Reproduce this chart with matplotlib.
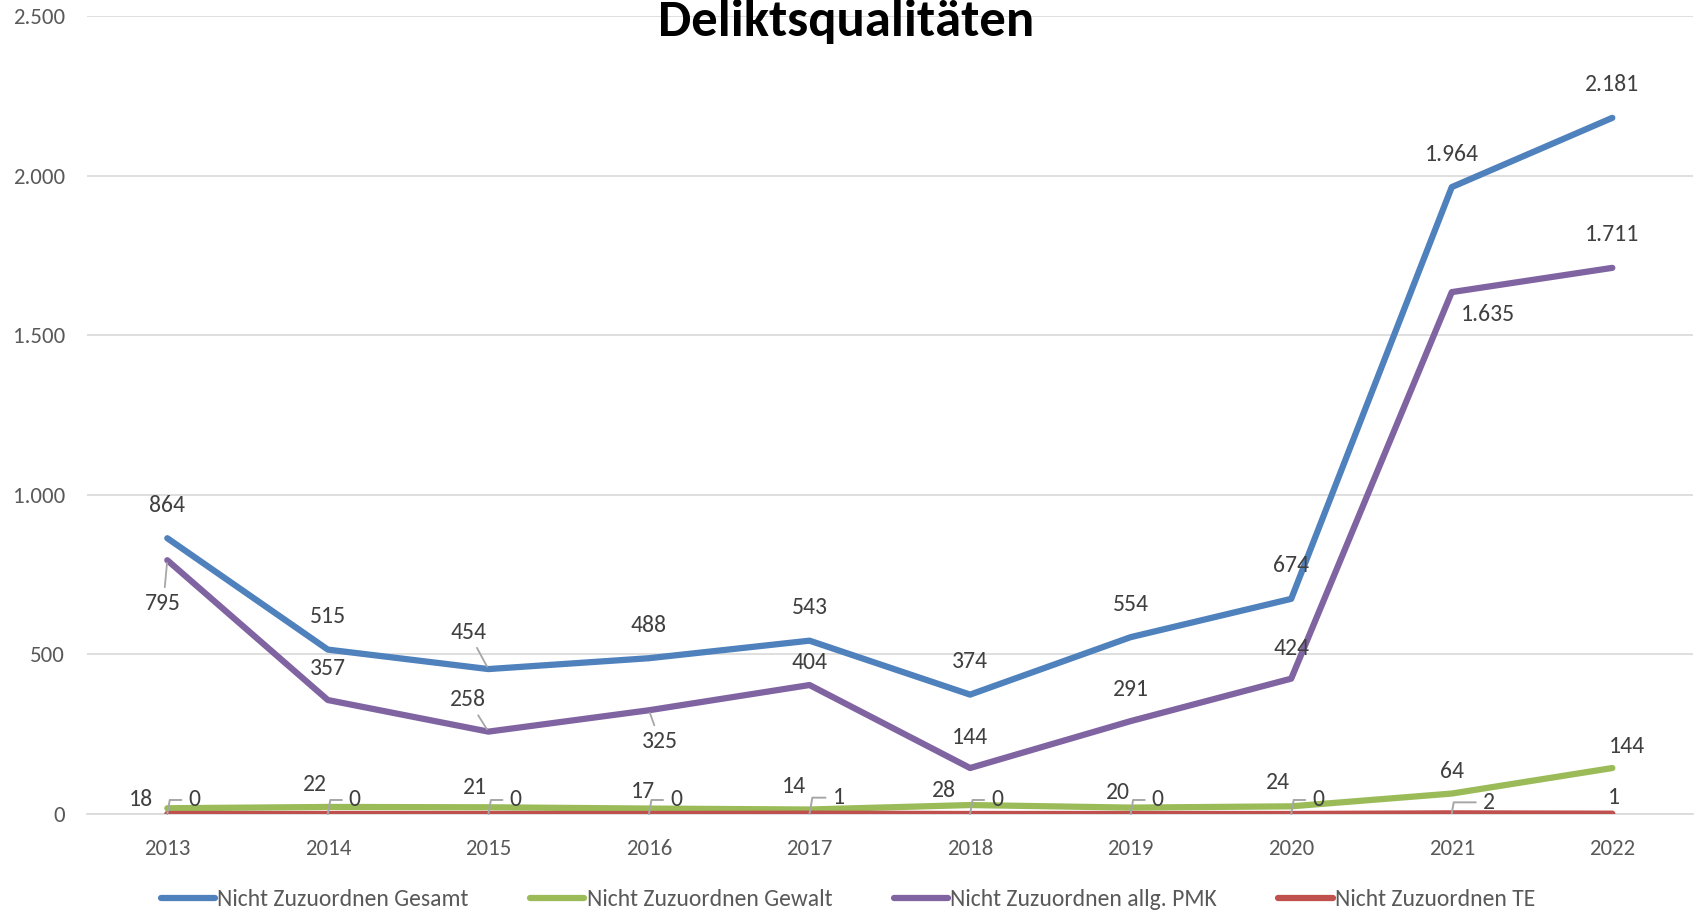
import matplotlib.pyplot as plt
import numpy as np

plt.rcParams['font.family'] = ['Carlito', 'DejaVu Sans']

# Daten
jahre = ['2013', '2014', '2015', '2016', '2017', '2018', '2019', '2020', '2021', '2022']
gesamt = [864, 515, 454, 488, 543, 374, 554, 674, 1964, 2181]
gewalt = [18, 22, 21, 17, 14, 28, 20, 24, 64, 144]
pmk = [795, 357, 258, 325, 404, 144, 291, 424, 1635, 1711]
te = [0, 0, 0, 0, 1, 0, 0, 0, 2, 1]
namen = ['Nicht Zuzuordnen Gesamt', 'Nicht Zuzuordnen Gewalt',
         'Nicht Zuzuordnen allg. PMK', 'Nicht Zuzuordnen TE']

farben = ['#4F81BD', '#9BBB59', '#8064A2', '#C0504D']

# Beschriftungs-Versatz in Pixeln (dx, dy) und ob eine Führungslinie gezeichnet wird
off_gesamt = [(0, 33)] * 10
off_gesamt[2] = (-20, 37)
lead_gesamt = [False, False, True] + [False] * 7
off_pmk = [(-4, -43), (0, 32), (-20, 32), (11, -31), (0, 23), (0, 31), (0, 32), (0, 30), (36, -22), (0, 33)]
lead_pmk = [True, False, True, True, False, False, False, False, False, False]
off_gewalt = [(-26, 9), (-13, 22), (-13, 20), (-6, 17), (-16, 23), (-26, 15), (-13, 15), (-13, 24), (0, 22), (15, 22)]
off_te = [(27, 14), (27, 14), (27, 14), (27, 14), (29, 16), (27, 14), (27, 14), (27, 14), (37, 11), (2, 16)]
lead_te = [True] * 9 + [False]


def fmt(v):
    return '{:,}'.format(int(v)).replace(',', '.')


fig = plt.figure(figsize=(16.96, 9.15), dpi=100)
ax = fig.add_axes([0.0513, 0.1104, 0.9467, 0.8721])

x = np.arange(len(jahre))
reihen = [gesamt, gewalt, pmk, te]
for i in [0, 1, 2, 3]:
    ax.plot(x, reihen[i], color=farben[i], lw=4.5, solid_capstyle='round',
            solid_joinstyle='round', label=namen[i], zorder=3)

ax.set_xlim(-0.5, len(jahre) - 0.5)
ax.set_ylim(0, 2500)
ax.set_yticks(np.arange(0, 2501, 500))
ax.set_yticklabels([fmt(v) for v in np.arange(0, 2501, 500)])
ax.set_xticks(x)
ax.set_xticklabels(jahre)
ax.tick_params(axis='both', length=0, labelsize=16.5, colors='#595959')
ax.tick_params(axis='x', pad=18)
ax.tick_params(axis='y', pad=16)
ax.grid(axis='y', color='#D9D9D9', lw=1.2, zorder=0)
for s in ['top', 'right', 'left']:
    ax.spines[s].set_visible(False)
ax.spines['bottom'].set_color('#D9D9D9')
ax.spines['bottom'].set_linewidth(1.2)


def beschriften(werte, offs, leads):
    for i, v in enumerate(werte):
        dx, dy = offs[i]
        ap = None
        if leads is not None and leads[i]:
            ap = dict(arrowstyle='-', color='#A6A6A6', lw=1.3, shrinkA=2, shrinkB=2)
        ax.annotate(fmt(v), (x[i], v), xytext=(dx, dy), textcoords='offset pixels',
                    ha='center', va='center', fontsize=17, color='#404040',
                    arrowprops=ap, zorder=5)


beschriften(gesamt, off_gesamt, lead_gesamt)
beschriften(pmk, off_pmk, lead_pmk)
beschriften(gewalt, off_gewalt, None)

# TE mit abgewinkelten Führungslinien
for i, v in enumerate(te):
    dx, dy = off_te[i]
    ap = None
    if lead_te[i]:
        ap = dict(arrowstyle='-', color='#A6A6A6', lw=1.4, shrinkA=3, shrinkB=0,
                  connectionstyle='angle,angleA=0,angleB=80,rad=0')
    ax.annotate(fmt(v), (x[i], v), xytext=(dx, dy), textcoords='offset pixels',
                ha='center', va='center', fontsize=17, color='#404040',
                arrowprops=ap, zorder=5)

fig.text(0.499, 1 - 36 / 915, 'Deliktsqualitäten', ha='center', va='baseline',
         fontsize=38, fontweight='bold', color='black')

fig.legend(loc='center', bbox_to_anchor=(0.5, 1 - 900 / 915), ncol=4, frameon=False,
           fontsize=17, handlelength=2.3, columnspacing=2.6, handletextpad=0.1,
           labelcolor='#595959')

fig.savefig('out.png', dpi=100)
